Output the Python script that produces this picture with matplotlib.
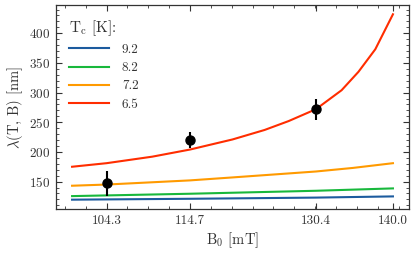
import numpy as np
import matplotlib
matplotlib.use("Agg")
import matplotlib.pyplot as plt
from matplotlib.ticker import FixedLocator, MultipleLocator

plt.rcParams['font.family'] = 'serif'
plt.rcParams['font.serif'] = ['cmr10', 'DejaVu Serif']
plt.rcParams['mathtext.fontset'] = 'cm'
plt.rcParams['axes.formatter.use_mathtext'] = True

# Model curves lambda(B) for several Tc
b_blue = [100, 114.7, 130.4, 140]
l_blue = [119.5, 121, 123, 125]
b_green = [100, 114.7, 130.4, 140]
l_green = [125.5, 129.5, 134.5, 138.5]
b_orange = [100, 104.3, 114.7, 120, 130.4, 135, 140]
l_orange = [143, 145, 152, 157, 167, 173, 181]
b_red = [100, 104.3, 110, 114.7, 120, 124, 127, 130.4, 133.6, 135.7, 137.8, 140]
l_red = [175, 181, 192, 204, 221, 237, 252, 272, 304, 335, 373, 432]

tc_labels = ['9.2', '8.2', '7.2', '6.5']
colors = ['#1c5b9e', '#18b83c', '#ff9a00', '#ff2d00']

# Measured points
b_meas = [104.3, 114.7, 130.4]
l_meas = [147.5, 219.5, 272]
l_err = [21, 13.5, 18]

xtick_labels = ['104.3', '114.7', '130.4', '140.0']
xticks = [104.3, 114.7, 130.4, 140.0]

fig = plt.figure(figsize=(4.15, 2.57), dpi=100)
ax = fig.add_axes([0.135, 0.187, 0.8505, 0.7935])

for (bx, ly), c, lab in zip([(b_blue, l_blue), (b_green, l_green),
                             (b_orange, l_orange), (b_red, l_red)],
                            colors, tc_labels):
    ax.plot(bx, ly, color=c, lw=1.5, label=lab)

ax.errorbar(b_meas, l_meas, yerr=l_err, fmt='o', color='black',
            ms=6.5, elinewidth=1.5, capsize=0, zorder=5)

ax.set_xticks(xticks)
ax.set_xticklabels(xtick_labels)
ax.xaxis.set_minor_locator(FixedLocator(np.arange(99.1, 141.5, 2.6)))
ax.yaxis.set_major_locator(MultipleLocator(50))
ax.yaxis.set_minor_locator(MultipleLocator(10))
ax.tick_params(which='both', direction='in', top=True, right=True,
               labelsize=9.5, color='#333333', labelcolor='#333333')
ax.tick_params(which='major', length=4.5, width=0.8, pad=4)
ax.tick_params(which='minor', length=2.5, width=0.6)
for s in ax.spines.values():
    s.set_linewidth(0.9)
    s.set_color('#333333')

ax.set_xlabel(r'B$_0$ [mT]', fontsize=10.5, color='#333333', labelpad=3)
ax.set_ylabel(r'$\lambda$(T, B) [nm]', fontsize=10.5, color='#333333', labelpad=3)

leg = ax.legend(title=r'T$_\mathrm{c}$ [K]:', loc='upper left', frameon=False,
                fontsize=9.5, title_fontsize=11, handlelength=3.0,
                borderaxespad=0.6, labelspacing=0.45, handletextpad=1.0,
                alignment='left')
for t in leg.get_texts():
    t.set_color('#333333')
leg.get_title().set_color('#333333')

fig.savefig('out.png', dpi=100)
